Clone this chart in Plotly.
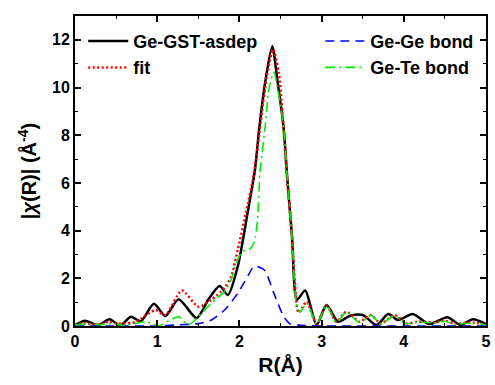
import plotly.graph_objects as go

# Fourier-transform magnitude |chi(R)| of the Ge K-edge EXAFS and its two-shell fit
r_data = [0.0, 0.12, 0.28, 0.42, 0.55, 0.68, 0.80, 0.96, 1.10, 1.26, 1.48, 1.62, 1.76, 1.86,
          1.98, 2.10, 2.19, 2.24, 2.32, 2.40, 2.46, 2.54, 2.58, 2.64, 2.70, 2.80, 2.94, 3.06,
          3.20, 3.34, 3.50, 3.67, 3.81, 3.93, 4.11, 4.31, 4.53, 4.69, 4.84, 5.0]
chi_data = [0.03, 0.22, 0.03, 0.28, 0.02, 0.39, 0.20, 0.93, 0.42, 1.12, 0.33, 1.10, 1.68, 1.30,
            2.50, 4.75, 6.57, 8.25, 10.36, 11.73, 10.36, 8.25, 6.30, 3.76, 1.10, 1.49, 0.04, 0.88,
            0.18, 0.42, 0.46, 0.04, 0.50, 0.25, 0.50, 0.08, 0.37, 0.04, 0.28, 0.08]

r_fit = [0.0, 0.10, 0.25, 0.42, 0.54, 0.74, 0.90, 0.98, 1.10, 1.30, 1.50, 1.66, 1.82, 1.90,
         1.98, 2.08, 2.18, 2.26, 2.34, 2.41, 2.48, 2.54, 2.58, 2.64, 2.70, 2.72, 2.76, 2.82,
         2.94, 3.06, 3.18, 3.30, 3.46, 3.60, 3.72, 3.89, 4.03, 4.17, 4.37, 4.50, 4.63, 4.84, 5.0]
chi_fit = [0.02, 0.11, 0.05, 0.18, 0.10, 0.17, 0.54, 0.67, 0.46, 1.49, 0.81, 1.10, 1.60, 2.08,
           3.20, 4.75, 6.43, 8.60, 10.60, 11.60, 10.60, 8.10, 6.20, 3.70, 0.80, 0.55, 0.75, 1.02,
           0.10, 0.88, 0.18, 0.60, 0.18, 0.46, 0.10, 0.46, 0.11, 0.18, 0.15, 0.22, 0.10, 0.15, 0.05]

r_gege = [0.0, 0.5, 1.0, 1.26, 1.50, 1.66, 1.82, 1.98, 2.10, 2.18, 2.30, 2.42, 2.54, 2.62,
          2.75, 3.0, 4.0, 5.0]
chi_gege = [0.0, 0.0, 0.0, 0.05, 0.10, 0.25, 0.67, 1.37, 2.08, 2.50, 2.36, 1.37, 0.39, 0.08,
            0.03, 0.0, 0.0, 0.0]

r_gete = [0.0, 0.15, 0.30, 0.47, 0.60, 0.86, 1.02, 1.26, 1.38, 1.50, 1.66, 1.82, 1.90, 1.98,
          2.04, 2.12, 2.18, 2.22, 2.25, 2.31, 2.36, 2.42, 2.48, 2.54, 2.58, 2.64, 2.70, 2.74,
          2.82, 2.94, 3.06, 3.18, 3.30, 3.46, 3.60, 3.72, 3.89, 4.03, 4.17, 4.37, 4.50, 4.63,
          4.84, 5.0]
chi_gete = [0.05, 0.10, 0.05, 0.10, 0.02, 0.18, 0.02, 0.39, 0.05, 0.39, 0.96, 1.45, 1.94, 2.78,
            3.13, 3.20, 3.50, 4.46, 6.40, 8.25, 9.94, 10.64, 9.65, 8.25, 6.30, 3.70, 0.80, 0.60,
            0.95, 0.08, 0.85, 0.15, 0.58, 0.15, 0.45, 0.10, 0.42, 0.10, 0.17, 0.13, 0.20, 0.08,
            0.13, 0.04]

x_ticks = [0, 1, 2, 3, 4, 5]
y_ticks = [0, 2, 4, 6, 8, 10, 12]

FONT = "Liberation Sans, Arial, sans-serif"

fig = go.Figure()
fig.add_trace(go.Scatter(x=r_data, y=chi_data, mode="lines", name="<b>Ge-GST-asdep</b>",
                         line=dict(color="black", width=2.5, shape="spline", smoothing=0.7),
                         legend="legend"))
fig.add_trace(go.Scatter(x=r_fit, y=chi_fit, mode="lines", name="<b>fit</b>",
                         line=dict(color="#ff0000", width=2.5, dash="2px,2.5px", shape="spline", smoothing=0.7),
                         legend="legend"))
fig.add_trace(go.Scatter(x=r_gege, y=chi_gege, mode="lines", name="<b>Ge-Ge bond</b>",
                         line=dict(color="#0000ff", width=1.6, dash="9px,6px", shape="spline", smoothing=0.7),
                         legend="legend2"))
fig.add_trace(go.Scatter(x=r_gete, y=chi_gete, mode="lines", name="<b>Ge-Te bond</b>",
                         line=dict(color="#00ee00", width=1.6, dash="10px,4px,2px,4px", shape="spline", smoothing=0.7),
                         legend="legend2"))

axis_common = dict(
    showline=True, linecolor="black", linewidth=2, mirror="ticks",
    ticks="inside", ticklen=6, tickwidth=1.5, tickcolor="black",
    showgrid=False, zeroline=False,
    tickfont=dict(family=FONT, size=16, color="black", weight="bold"),
)

fig.update_xaxes(range=[0, 5], tickvals=x_ticks, ticktext=[str(v) for v in x_ticks],
                 minor=dict(ticks="inside", ticklen=3, tickwidth=1.2, tickcolor="black", dtick=0.5),
                 title=dict(text="<b>R(Å)</b>", font=dict(family=FONT, size=21, color="black"), standoff=8),
                 **axis_common)
fig.update_yaxes(range=[0, 13], tickvals=y_ticks, ticktext=[str(v) for v in y_ticks],
                 minor=dict(ticks="inside", ticklen=3, tickwidth=1.2, tickcolor="black", dtick=1),
                 title=dict(text="<b>|<i>χ</i>(R)| (Å<sup>-4</sup>)</b>",
                            font=dict(family=FONT, size=20, color="black"), standoff=10),
                 **axis_common)

legend_common = dict(font=dict(family=FONT, size=18, color="black"),
                     bgcolor="rgba(0,0,0,0)", borderwidth=0, tracegroupgap=0,
                     xanchor="left", yanchor="top", itemwidth=40)
fig.update_layout(
    width=495, height=385,
    margin=dict(l=75, r=4, t=16, b=59),
    paper_bgcolor="white", plot_bgcolor="white",
    showlegend=True,
    legend=dict(x=0.02, y=0.978, **legend_common),
    legend2=dict(x=0.597, y=0.978, **legend_common),
)

fig.write_html("out.html")
